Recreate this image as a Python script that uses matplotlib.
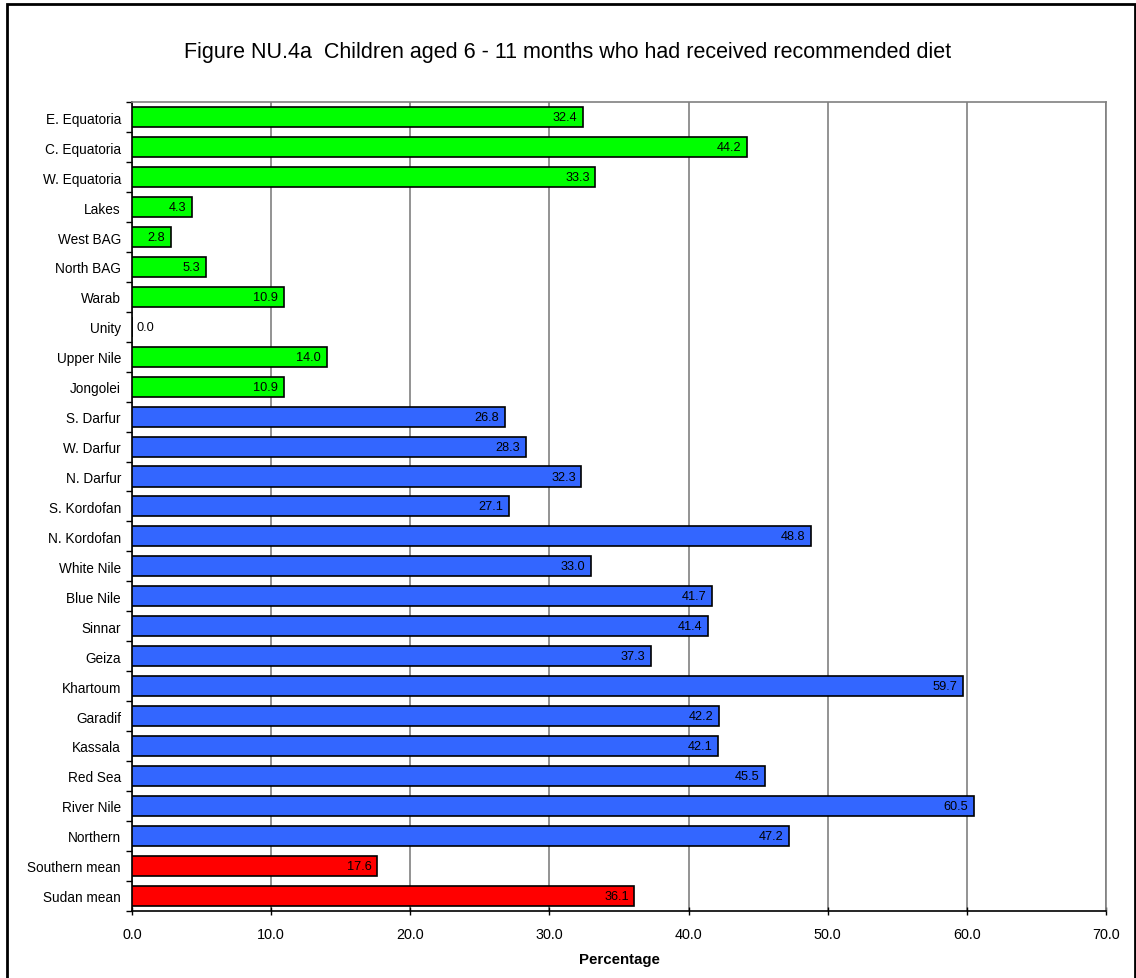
import matplotlib

matplotlib.use("Agg")
import matplotlib.pyplot as plt
from matplotlib.patches import Rectangle

plt.rcParams["font.family"] = ["Liberation Sans", "DejaVu Sans"]

# datos (de arriba hacia abajo)
regiones = [
    "E. Equatoria", "C. Equatoria", "W. Equatoria", "Lakes", "West BAG",
    "North BAG", "Warab", "Unity", "Upper Nile", "Jongolei",
    "S. Darfur", "W. Darfur", "N. Darfur", "S. Kordofan", "N. Kordofan",
    "White Nile", "Blue Nile", "Sinnar", "Geiza", "Khartoum",
    "Garadif", "Kassala", "Red Sea", "River Nile", "Northern",
    "Southern mean", "Sudan mean",
]
valores = [
    32.4, 44.2, 33.3, 4.3, 2.8, 5.3, 10.9, 0.0, 14.0, 10.9,
    26.8, 28.3, 32.3, 27.1, 48.8, 33.0, 41.7, 41.4, 37.3, 59.7,
    42.2, 42.1, 45.5, 60.5, 47.2,
    17.6, 36.1,
]
grupo = ["sur"] * 10 + ["norte"] * 15 + ["media"] * 2
colores = {"sur": "#00FF00", "norte": "#3366FF", "media": "#FF0000"}
xticks = [0, 10, 20, 30, 40, 50, 60, 70]

fig = plt.figure(figsize=(11.36, 9.79), dpi=100)
ax = fig.add_axes([0.1162, 0.0688, 0.8574, 0.8257])

y = list(range(len(regiones)))
ax.barh(y, valores, height=0.67, color=[colores[g] for g in grupo],
        edgecolor="black", linewidth=1.2, zorder=3)

for yi, v in zip(y, valores):
    if v > 0:
        ax.annotate(f"{v:.1f}", (v, yi), xytext=(-4, 0), textcoords="offset points",
                    ha="right", va="center", fontsize=9.2, zorder=4)
    else:
        ax.annotate(f"{v:.1f}", (v, yi), xytext=(3.5, 0), textcoords="offset points",
                    ha="left", va="center", fontsize=9.2, zorder=4)

ax.set_ylim(len(regiones) - 0.5, -0.5)
ax.set_xlim(0, 70)
# ticks mayores en los bordes de categoría, etiquetas en el centro
ax.set_yticks([i - 0.5 for i in range(len(regiones) + 1)])
ax.set_yticklabels([])
ax.set_yticks(y, minor=True)
ax.set_yticklabels(regiones, minor=True, fontsize=9.8)
ax.tick_params(axis="y", which="minor", length=0, pad=8)
ax.tick_params(axis="y", which="major", length=4, direction="out", width=1)
ax.set_xticks(xticks)
ax.set_xticklabels([f"{t:.1f}" for t in xticks], fontsize=10.4)
ax.tick_params(axis="x", length=6, direction="inout", width=1, pad=9)
ax.grid(axis="x", color="#808080", linewidth=1.2, zorder=0)

for s in ["top", "right"]:
    ax.spines[s].set_color("#808080")
    ax.spines[s].set_linewidth(1.2)
for s in ["left", "bottom"]:
    ax.spines[s].set_color("black")
    ax.spines[s].set_linewidth(1.2)

ax.set_xlabel("Percentage", fontsize=10.8, fontweight="bold", labelpad=8)

fig.text(0.5, 0.9459, "Figure NU.4a  Children aged 6 - 11 months who had "
         "received recommended diet", ha="center", va="center", fontsize=15.5)

# marco exterior
fig.patches.append(Rectangle((0.0065, -0.05), 0.9925, 1.0445, transform=fig.transFigure,
                             fill=False, edgecolor="black", linewidth=2))

fig.savefig("out.png", dpi=100)
